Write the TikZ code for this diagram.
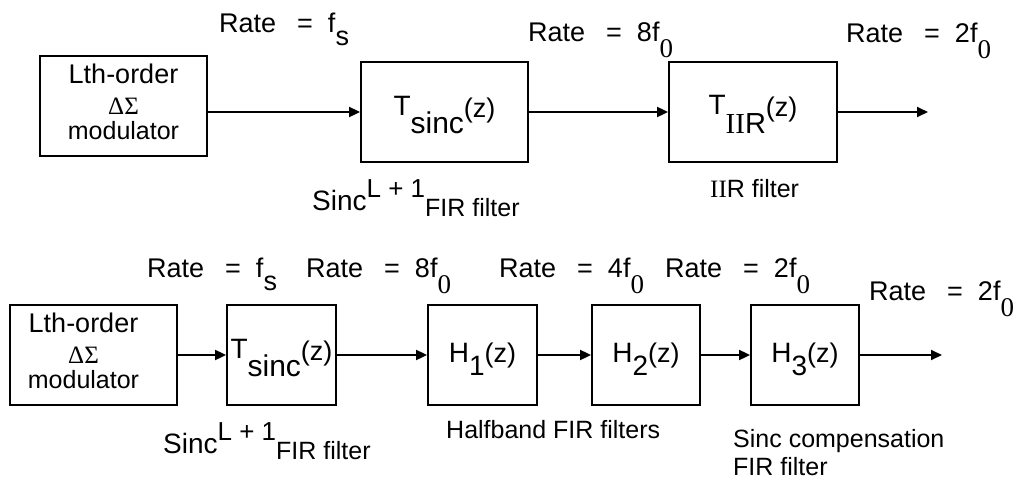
\documentclass[tikz,border=0pt]{standalone}
\usepackage{fontspec}
\setmainfont{Liberation Sans}
\newfontfamily\tnr{Liberation Serif}
\usepackage{tikz}
\usetikzlibrary{arrows.meta}
\newcommand{\fs}[1]{\fontsize{#1}{#1}\selectfont}
\newcommand{\rate}[1]{Rate\hspace{21pt}=\hspace{15pt}#1}
\newcommand{\dn}[2]{\raisebox{-#1}{#2}}
\newcommand{\lthmod}[1]{\begin{tabular}{@{}c@{\hspace{#1}}}
  {\fs{27}Lth-order}\\[3pt]
  {\tnr\fs{25}ΔΣ}\\[-3pt]
  {\fs{25}modulator}\end{tabular}}
\newcommand{\sincl}{Sinc\raisebox{13pt}{\fs{26}L + 1}\dn{6pt}{\fs{25}FIR filter}}

\begin{document}
\begin{tikzpicture}[x=1pt,y=-1pt,>={Triangle[length=11pt,width=10pt]},
  blk/.style={draw,line width=1.8pt,inner sep=0pt,minimum height=100pt,
    font=\fontsize{28}{28}\selectfont},
  sig/.style={->,line width=1.8pt},
  lbl/.style={anchor=base west,inner sep=0pt,font=\fs{27}},
  note/.style={anchor=base west,inner sep=0pt,font=\fs{25}}]
  \useasboundingbox (0,0) rectangle (1019,479);

  % upper chain
  \node[blk,minimum width=167pt] (mod) at (123.5,106) {\lthmod{0pt}};
  \node[blk,minimum width=167pt,text height=24pt,text depth=18pt] (tsinc) at (444.5,112)
    {T\dn{18pt}{\fs{30}sinc}\dn{2pt}{\fs{27}(z)}};
  \node[blk,minimum width=168pt,text height=24pt,text depth=19pt] (tiir) at (753,112)
    {T\dn{19pt}{\fs{29}{\tnr II}R}\dn{2pt}{\fs{27}(z)}};
  \coordinate (out1) at (928,112);

  \draw[sig] (mod.east |- tsinc.west) -- (tsinc.west);
  \draw[sig] (tsinc) -- (tiir);
  \draw[sig] (tiir) -- (out1);

  \node[lbl] (ra) at (219,32) {\rate{f\dn{13pt}{s}}};
  \node[lbl] (rb) at (528,41) {\rate{8f\dn{16pt}{\tnr 0}}};
  \node[lbl] (rc) at (846,42) {\rate{2f\dn{16pt}{\tnr 0}}};
  \node[note,font=\fs{28}] (sa) at (312,210) {\sincl};
  \node[note] (ia) at (710,197) {{\tnr II}R filter};

  % lower chain
  \node[blk,minimum width=167pt] (mod2) at (93.5,355) {\lthmod{20pt}};
  \node[blk,minimum width=109pt,text height=24pt,text depth=18pt] (tsinc2) at (281.5,355)
    {T\dn{18pt}{\fs{30}sinc}\dn{2pt}{\fs{27}(z)}};
  \node[blk,minimum width=109pt,text height=27pt,text depth=13pt] (hone) at (482.5,355)
    {H\dn{13pt}{1}\fs{27}(z)};
  \node[blk,minimum width=108pt,text height=27pt,text depth=13pt] (htwo) at (646,355)
    {H\dn{13pt}{2}\fs{27}(z)};
  \node[blk,minimum width=108pt,text height=27pt,text depth=13pt] (hthree) at (805,355)
    {H\dn{13pt}{3}\fs{27}(z)};
  \coordinate (out2) at (942,355);

  \draw[sig] (mod2) -- (tsinc2);
  \draw[sig] (tsinc2) -- (hone);
  \draw[sig] (hone) -- (htwo);
  \draw[sig] (htwo) -- (hthree);
  \draw[sig] (hthree) -- (out2);

  \node[lbl] (rd) at (147,277) {\rate{f\dn{13pt}{s}}};
  \node[lbl] (re) at (306,277) {\rate{8f\dn{16pt}{\tnr 0}}};
  \node[lbl] (rf) at (499,277) {\rate{4f\dn{16pt}{\tnr 0}}};
  \node[lbl] (rg) at (665,277) {\rate{2f\dn{16pt}{\tnr 0}}};
  \node[lbl] (rh) at (869,300) {\rate{2f\dn{16pt}{\tnr 0}}};
  \node[note,font=\fs{28}] (sb) at (163,453) {\sincl};
  \node[note] (hb) at (446,438) {Halfband FIR filters};
  \node[note] (ca) at (733,447) {Sinc compensation};
  \node[note] (cb) at (733,475) {FIR filter};
\end{tikzpicture}
\end{document}
